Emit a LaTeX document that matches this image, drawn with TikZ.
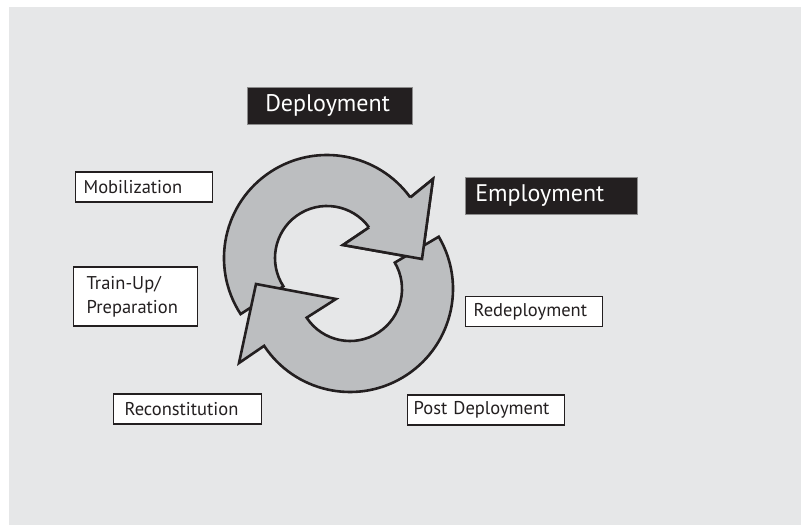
\documentclass[tikz,border=0pt]{standalone}
\usepackage{fontspec}
\setmainfont{PT Sans}
\usetikzlibrary{calc}
\definecolor{bggray}{HTML}{E6E7E8}
\definecolor{arrowgray}{HTML}{BCBEC0}
\definecolor{inkblack}{HTML}{231F20}

\begin{document}
\begin{tikzpicture}[x=1pt,y=1pt,
  phase/.style={draw=inkblack,line width=1.3pt,fill=white,text=inkblack,align=left,
    anchor=west,font=\fontsize{18.5}{24}\selectfont,minimum height=30pt,inner ysep=0pt},
  stage/.style={fill=inkblack,draw=black!45,line width=0.6pt,text=white,align=left,
    anchor=west,font=\fontsize{24}{28}\selectfont,minimum height=37pt,inner ysep=0pt},
  cyc/.style={draw=inkblack,line width=2.6pt,fill=arrowgray}]
  \useasboundingbox (0,0) rectangle (801,525);
  \fill[white] (0,0) rectangle (801,525);
  \fill[bggray] (9,0) rectangle (801,518);

  \coordinate (c1) at (327,267);
  \coordinate (c2) at (350,236);

  % upper arrow
  \draw[cyc] ($(c1)+(213:103)$) arc[start angle=213,end angle=36,radius=103]
    -- (433,346) -- (422,266) -- (343,280) -- ($(c1)+(36:52)$)
    arc[start angle=36,end angle=213,radius=52] -- cycle;
  % lower arrow
  \draw[cyc] ($(c2)+(30.5:103)$) arc[start angle=30.5,end angle=-146.5,radius=103]
    -- (239,162) -- (256,241) -- (336,226) -- ($(c2)+(-146.5:52)$)
    arc[start angle=-146.5,end angle=30.5,radius=52] -- cycle;
  % head of the upper arrow again, over the tail of the lower one
  \fill[arrowgray] ($(c1)+(36:52)$) -- (343,280) -- (422,266) -- (433,346)
    -- ($(c1)+(36:103)$) -- cycle;
  \draw[cyc,fill=none] ($(c1)+(36:52)$) -- (343,280) -- (422,266) -- (433,346)
    -- ($(c1)+(36:103)$);

  \node[stage,inner xsep=18pt,text width=129pt] (deploy) at (247,419.5) {Deployment};
  \node[stage,inner xsep=10pt,text width=152pt] (employ) at (465,329) {Employment};
  \node[phase,inner xsep=8pt,text width=121pt] (mobil) at (75,338) {Mobilization};
  \node[phase,inner xsep=13pt,text width=98pt,minimum height=59pt] (trainup) at (73,228.5) {Train-Up/\\Preparation};
  \node[phase,inner xsep=11pt,text width=126pt] (reconst) at (113,116) {Reconstitution};
  \node[phase,inner xsep=8pt,text width=121pt] (redeploy) at (465,213.5) {Redeployment};
  \node[phase,inner xsep=6pt,text width=145pt] (postdeploy) at (407,115) {Post Deployment};
\end{tikzpicture}
\end{document}
